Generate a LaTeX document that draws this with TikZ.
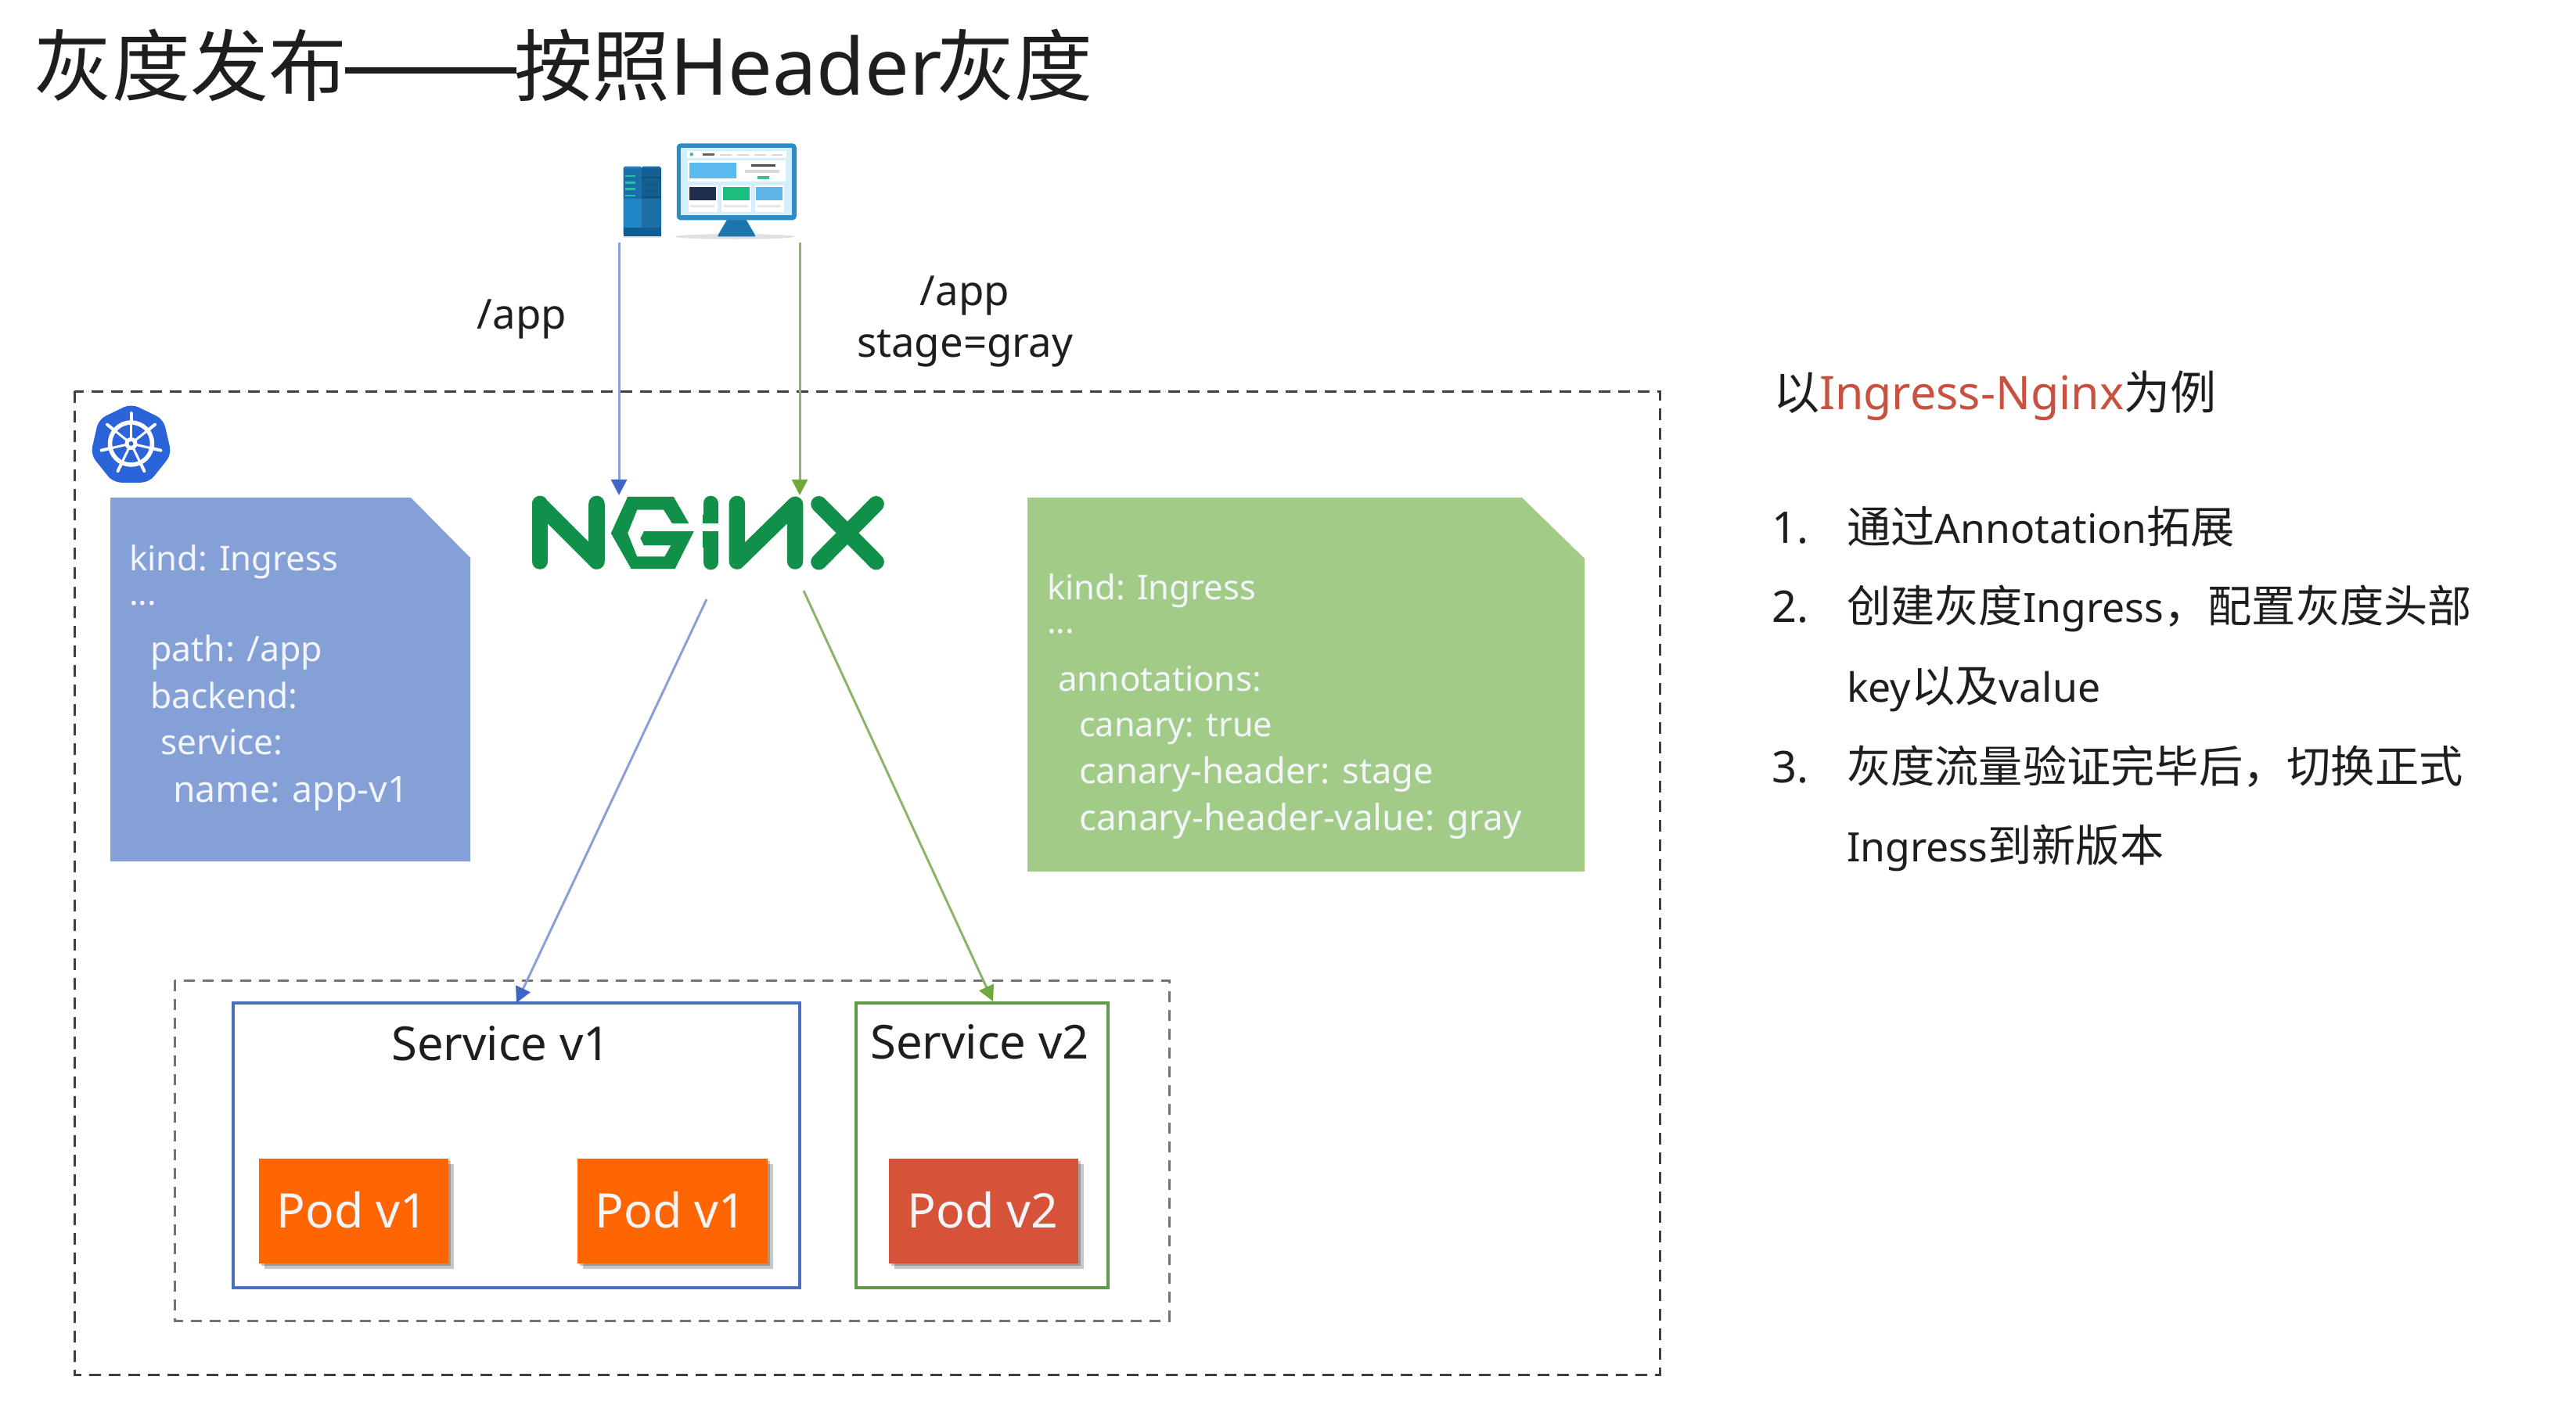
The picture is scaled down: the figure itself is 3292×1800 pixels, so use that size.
\documentclass[tikz,border=0pt]{standalone}
\usepackage{fontspec}
\setmainfont{Noto Sans}
\newfontfamily\cjkfont{Noto Sans CJK SC}
\newcommand{\cj}[1]{{\cjkfont #1}}
\newcommand{\fs}[1]{\fontsize{#1pt}{#1pt}\selectfont}
\newcommand{\lt}[1]{{\fs{14.7}#1}}
\usetikzlibrary{arrows.meta,shadows,calc}
\definecolor{bluedoc}{HTML}{84A0D6}
\definecolor{greendoc}{HTML}{A2CB87}
\definecolor{bluebox}{HTML}{4A6FBE}
\definecolor{greenbox}{HTML}{5E9A4A}
\definecolor{blueline}{HTML}{8BA0D8}
\definecolor{greenline}{HTML}{8DB46A}
\definecolor{bluehead}{HTML}{3F66C6}
\definecolor{greenhead}{HTML}{70A83C}
\definecolor{ngx}{HTML}{11904A}
\definecolor{kube}{HTML}{2B63D9}
\definecolor{podorange}{HTML}{FF6600}
\definecolor{podred}{HTML}{D65238}
\definecolor{doctext}{HTML}{F2F6FA}
\definecolor{redtext}{HTML}{C8523F}
\definecolor{darktext}{HTML}{1E1E1E}
\tikzset{
  txt/.style={anchor=base west,inner sep=0pt,outer sep=0pt,text=darktext},
  ctr/.style={anchor=base,inner sep=0pt,outer sep=0pt,text=darktext},
  doclabel/.style={txt,text=doctext,font=\fs{#1}},
  outerdash/.style={draw=black!75,line width=.03cm,dash pattern=on .15cm off .10cm},
  innerdash/.style={draw=black!55,line width=.03cm,dash pattern=on .14cm off .10cm},
  svcbox/.style={rectangle,inner sep=0pt,outer sep=0pt,line width=.035cm,minimum height=3.64cm},
  podbox/.style={rectangle,inner sep=0pt,outer sep=0pt,minimum width=2.42cm,minimum height=1.34cm,
     general shadow={fill=black,opacity=.22,shadow xshift=.03cm,shadow yshift=-.03cm},
     general shadow={fill=black,opacity=.22,shadow xshift=.07cm,shadow yshift=-.07cm}},
  bluearrow/.style={draw=blueline,line width=.03cm,-{Triangle[length=.2cm,width=.2cm,color=bluehead]}},
  greenarrow/.style={draw=greenline,line width=.03cm,-{Triangle[length=.2cm,width=.2cm,color=greenhead]}},
  ngxstroke/.style={draw=ngx,line width=.205cm,line cap=round,line join=round},
}
\begin{document}
\begin{tikzpicture}[x=.01cm,y=-.01cm]
\useasboundingbox (0,0) rectangle (3292,1800);
\fill[white] (0,0) rectangle (3292,1800);

% title
\node[txt,font=\fs{28.4}] (title1) at (44,122) {\cj{灰度发布}};
\draw[darktext,line width=.085cm] (441,90) -- (660,90);
\node[txt,font=\fs{28.4}] (title2) at (657,122) {\cj{按照}};
\node[txt,font=\fs{28.6}] (title3) at (856,122) {Header};
\node[txt,font=\fs{28.4}] (title4) at (1197,122) {\cj{灰度}};

% outer boxes
\draw[outerdash] (95,500) rectangle (2121,1757);
\draw[innerdash] (223,1253) rectangle (1494,1688);

% workstation icon
\begin{scope}[shift={(700,150)},x=.00333cm,y=-.00333cm]
  \fill[black!12] (720,458) ellipse (230 and 10);
  \fill[black!10] (290,452) rectangle (435,464);
  % server
  \fill[color={rgb,255:red,31;green,135;blue,198},rounded corners=.03cm] (290,188) rectangle (362,455);
  \fill[color={rgb,255:red,27;green,111;blue,164},rounded corners=.03cm] (360,188) rectangle (435,455);
  \fill[color={rgb,255:red,26;green,110;blue,170}] (290,195) rectangle (360,312);
  \fill[color={rgb,255:red,21;green,95;blue,145}] (360,195) rectangle (435,312);
  \fill[color={rgb,255:red,15;green,93;blue,145}] (290,425) rectangle (435,458);
  \foreach \yy in {225,250,275,300}{
    \fill[color={rgb,255:red,44;green,192;blue,160}] (298,\yy-4) rectangle (337,\yy+4);
    \fill[color={rgb,255:red,14;green,82;blue,128}] (360,\yy+4) rectangle (435,\yy+8);
  }
  % stand + monitor
  \fill[color={rgb,255:red,27;green,118;blue,176}] (690,390) -- (760,390) -- (795,450) -- (797,458) -- (653,458) -- (655,450) -- cycle;
  \fill[color={rgb,255:red,45;green,139;blue,198},rounded corners=.05cm] (495,100) rectangle (955,395);
  \fill[color={rgb,255:red,213;green,238;blue,251}] (512,118) rectangle (938,375);
  \fill[white] (535,128) rectangle (915,155);
  \fill[white] (538,165) rectangle (912,245);
  \fill[color={rgb,255:red,92;green,186;blue,240}] (545,175) rectangle (725,235);
  \fill[black!70] (780,180) rectangle (875,190);
  \fill[black!15] (758,200) rectangle (890,212);
  \fill[color={rgb,255:red,60;green,192;blue,138}] (805,225) rectangle (850,237);
  \fill[color={rgb,255:red,60;green,192;blue,138}] (552,142) circle (7);
  \fill[black!60] (595,139) rectangle (640,147);
  \foreach \xx in {662,728,794,858}{\fill[black!15] (\xx,140) rectangle (\xx+44,147);}
  \foreach \xx in {540,668,796}{
    \fill[white] (\xx,262) rectangle (\xx+112,365);
    \fill[black!10] (\xx+8,338) rectangle (\xx+100,346);
  }
  \fill[color={rgb,255:red,31;green,47;blue,77}] (545,268) rectangle (645,320);
  \fill[color={rgb,255:red,26;green,190;blue,126}] (672,268) rectangle (775,320);
  \fill[color={rgb,255:red,92;green,180;blue,232}] (800,268) rectangle (902,318);
\end{scope}
\coordinate (clientL) at (791,310);
\coordinate (clientR) at (1022,310);

% request labels
\node[ctr,font=\fs{15}] (pathA) at (667,420) {/app};
\node[ctr,font=\fs{15}] (pathB) at (1233,390) {/app};
\node[ctr,font=\fs{15}] (stage) at (1233,456) {stage=gray};

% kubernetes logo
\begin{scope}[shift={(167.5,569)},x=.01cm,y=.01cm]
  \fill[kube,rounded corners=.1cm] (90:53) -- (141.43:53) -- (192.86:53) -- (244.29:53) -- (295.71:53) -- (347.14:53) -- (38.57:53) -- cycle;
  \draw[white,line width=.055cm] (0,2) circle (27);
  \foreach \k in {0,...,6}{
    \draw[white,line width=.03cm] (0,2) -- ++(90+\k*51.43:27);
    \draw[white,line width=.04cm,line cap=round] ($(0,2)+(90+\k*51.43:27)$) -- ($(0,2)+(90+\k*51.43:39)$);
  }
  \fill[white] (0,2) circle (8);
  \fill[kube] (0,2) circle (3);
\end{scope}

% ingress documents
\fill[bluedoc] (141,636) -- (525,636) -- (601,713) -- (601,1101) -- (141,1101) -- cycle;
\node[doclabel=12.4] (b1) at (165,729) {kind: Ingress};
\node[doclabel=12.4] (b2) at (165,773) {...};
\node[doclabel=12.7] (b3) at (192,845) {path: /app};
\node[doclabel=12.6] (b4) at (192,905) {backend:};
\node[doclabel=12.6] (b5) at (205,964) {service:};
\node[doclabel=13.2] (b6) at (221,1025) {name: app-v1};

\fill[greendoc] (1313,636) -- (1945,636) -- (2025,714) -- (2025,1114) -- (1313,1114) -- cycle;
\node[doclabel=12.4] (g1) at (1338,766) {kind: Ingress};
\node[doclabel=12.4] (g2) at (1338,809) {...};
\node[doclabel=12.5] (g3) at (1352,883) {annotations:};
\node[doclabel=12.3] (g4) at (1379,941) {canary: true};
\node[doclabel=12.9] (g5) at (1379,1001) {canary-header: stage};
\node[doclabel=13.05] (g6) at (1379,1061) {canary-header-value: gray};

% nginx logo
\begin{scope}[shift={(640,600)},x=.003444cm,y=-.00333cm]
  \draw[ngxstroke] (145,132) -- (145,353);
  \draw[ngxstroke] (145,135) -- (355,353) -- (355,132);
  \fill[ngx] (470,105) -- (640,105) -- (697,208) -- (635,208) -- (603,155) -- (505,155) -- (470,245) -- (505,335) -- (607,335) -- (630,292) -- (530,292) -- (517,265) -- (530,238) -- (715,238) -- (645,382) -- (483,382) -- (408,245) -- cycle;
  \draw[ngxstroke,line width=.19cm] (777,130) -- (777,175);
  \fill[ngx] (749,175) rectangle (805,208);
  \fill[ngx] (749,238) rectangle (805,300);
  \draw[ngxstroke,line width=.19cm] (777,300) -- (777,357);
  \draw[ngxstroke] (875,132) -- (875,353) -- (1090,135) -- (1090,353);
  \draw[ngxstroke] (1178,133) -- (1390,355);
  \draw[ngxstroke] (1390,133) -- (1178,355);
\end{scope}
\coordinate (ngxIn1) at (791,633);
\coordinate (ngxIn2) at (1022,633);
\coordinate (ngxOut1) at (903,766);
\coordinate (ngxOut2) at (1027,755);

% services
\node[svcbox,draw=bluebox,minimum width=7.24cm] (svc1) at (660,1464) {};
\node[svcbox,draw=greenbox,minimum width=3.22cm] (svc2) at (1255,1464) {};
\coordinate (svc2in) at (1269,1280);
\node[ctr,font=\fs{17}] (svc1t) at (640,1355) {Service v1};
\node[ctr,font=\fs{17}] (svc2t) at (1252,1353) {Service v2};

% pods
\node[podbox,fill=podorange] (pod1) at (452,1548) {};
\node[podbox,fill=podorange] (pod2) at (859.5,1548) {};
\node[podbox,fill=podred] (pod3) at (1257,1548) {};
\node[ctr,text=doctext,font=\fs{17.3}] (pod1t) at (450,1569) {Pod v1};
\node[ctr,text=doctext,font=\fs{17.3}] (pod2t) at (857,1569) {Pod v1};
\node[ctr,text=doctext,font=\fs{17.3}] (pod3t) at (1256,1569) {Pod v2};

% connectors
\draw[bluearrow] (clientL) -- (ngxIn1);
\draw[greenarrow] (clientR) -- (ngxIn2);
\draw[bluearrow] (ngxOut1) -- (svc1.north);
\draw[greenarrow] (ngxOut2) -- (svc2in);

% right-hand notes
\node[txt,font=\fs{16.8}] (h1) at (2266,523) {\cj{以}\textcolor{redtext}{Ingress-Nginx}\cj{为例}};
\node[txt,font=\fs{15.9}] (n1) at (2264,694) {1.};
\node[txt,font=\fs{16}] (t1) at (2360,694) {\cj{通过}\lt{Annotation}\cj{拓展}};
\node[txt,font=\fs{15.9}] (n2) at (2264,795) {2.};
\node[txt,font=\fs{16}] (t2) at (2360,795) {\cj{创建灰度}\lt{Ingress}\cj{，配置灰度头部}};
\node[txt,font=\fs{16}] (t2b) at (2360,897) {\lt{key}\cj{以及}\lt{value}};
\node[txt,font=\fs{15.9}] (n3) at (2264,1000) {3.};
\node[txt,font=\fs{16}] (t3) at (2360,1000) {\cj{灰度流量验证完毕后，切换正式}};
\node[txt,font=\fs{16}] (t3b) at (2360,1101) {\lt{Ingress}\cj{到新版本}};
\end{tikzpicture}
\end{document}
